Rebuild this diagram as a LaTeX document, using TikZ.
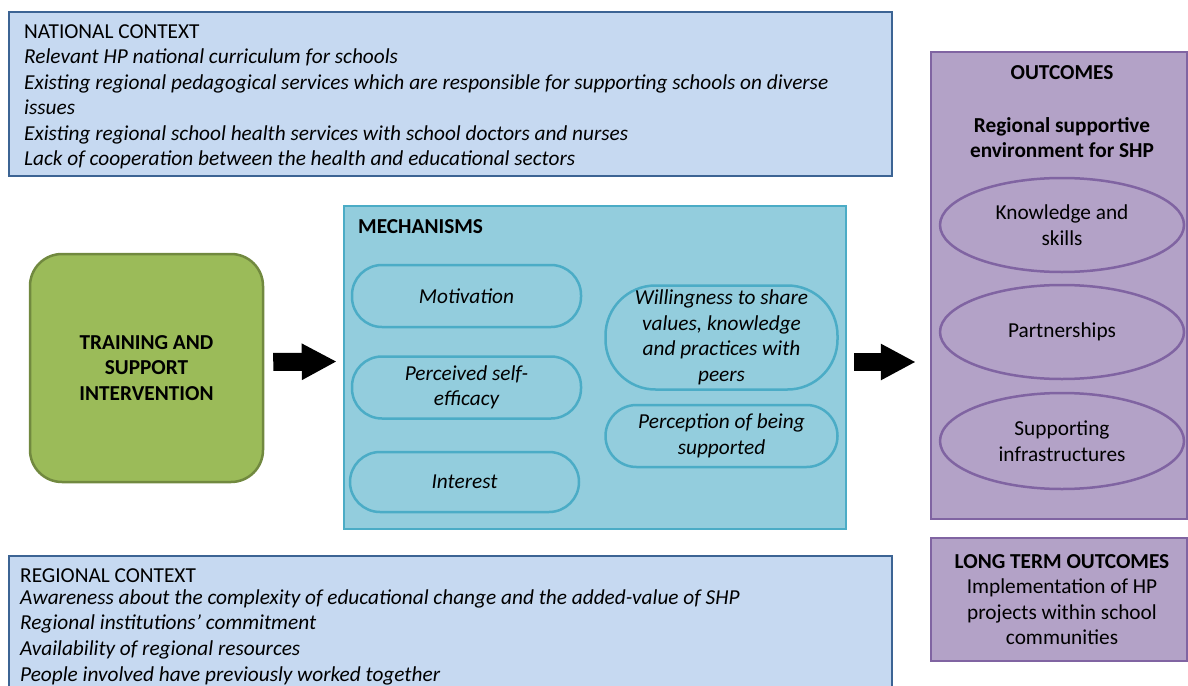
\documentclass[tikz,border=0pt]{standalone}
\usepackage{fontspec}
\setmainfont{Carlito}
\usetikzlibrary{arrows.meta,shapes.geometric}
\definecolor{natfill}{HTML}{C6D9F1}
\definecolor{natdraw}{HTML}{3C6494}
\definecolor{mechfill}{HTML}{93CDDD}
\definecolor{mechdraw}{HTML}{4BACC6}
\definecolor{grfill}{HTML}{9BBB59}
\definecolor{grdraw}{HTML}{71893F}
\definecolor{pufill}{HTML}{B3A2C7}
\definecolor{pudraw}{HTML}{8064A2}
\newcommand{\fsz}{\fontsize{21.3}{25.5}\selectfont}
\begin{document}
\begin{tikzpicture}[x=1pt,y=-1pt,
  every node/.style={font=\fsz, inner sep=0pt},
  ctxbox/.style={draw=natdraw, fill=natfill, line width=2.5pt},
  mechbox/.style={draw=mechdraw, fill=mechfill, line width=2.5pt},
  outbox/.style={draw=pudraw, fill=pufill, line width=2.5pt},
  line/.style={anchor=base west, font=\fsz\itshape},
  pill/.style={draw=mechdraw, fill=mechfill, line width=2.5pt, align=center,
    font=\fsz\itshape, minimum width=229pt, minimum height=62pt, rounded corners=30pt},
  oval/.style={ellipse, draw=pudraw, fill=pufill, line width=2.5pt, align=center,
    minimum width=244pt, minimum height=94pt},
  bigarrow/.style={line width=18pt, -{Triangle[length=35pt,width=34pt]}}
]
\useasboundingbox (0,0) rectangle (1188,685);
\begin{scope}
\clip (0,0) rectangle (1188,685);
% national context
\node[ctxbox, minimum width=883pt, minimum height=164pt] (nat) at (450.5,94) {};
\node[line, font=\fsz] (nat0) at (24,38) {NATIONAL CONTEXT};
\node[line] (nat1) at (24,63.5) {Relevant HP national curriculum for schools};
\node[line] (nat2) at (24,89) {Existing regional pedagogical services which are responsible for supporting schools on diverse};
\node[line] (nat3) at (24,114) {issues};
\node[line] (nat4) at (24,140) {Existing regional school health services with school doctors and nurses};
\node[line] (nat5) at (24,165) {Lack of cooperation between the health and educational sectors};
% regional context
\node[ctxbox, minimum width=883pt, minimum height=150pt] (reg) at (450.5,631) {};
\node[line, font=\fsz] (reg0) at (20,582) {REGIONAL CONTEXT};
\node[line] (reg1) at (20,604) {Awareness about the complexity of educational change and the added-value of SHP};
\node[line] (reg2) at (20,629) {Regional institutions’ commitment};
\node[line] (reg3) at (20,655) {Availability of regional resources};
\node[line] (reg4) at (20,681) {People involved have previously worked together};
% training
\node[draw=grdraw, fill=grfill, line width=2.5pt, rounded corners=32pt,
  minimum width=233pt, minimum height=228pt, align=center,
  font=\fsz\bfseries] (train) at (146.5,368)
  {TRAINING AND\\SUPPORT\\INTERVENTION};
% mechanisms
\node[mechbox, minimum width=502pt, minimum height=323pt] (mech) at (595,367.5) {};
\node[anchor=base west, font=\fsz\bfseries] (mecht) at (358,233) {MECHANISMS};
\node[pill] (motiv) at (466.5,296) {Motivation};
\node[pill] (self) at (466.5,387.5) {Perceived self-\\efficacy};
\node[pill, minimum height=60pt] (inter) at (464.5,482) {Interest};
\node[pill, minimum width=232pt, minimum height=104pt, rounded corners=50pt] (will) at (721.5,337.5)
  {Willingness to share\\values, knowledge\\and practices with\\peers};
\node[pill, minimum width=232pt, minimum height=62pt, rounded corners=31pt] (perc) at (721.5,436) {Perception of being\\supported};
% outcomes
\node[outbox, minimum width=256pt, minimum height=467pt] (outc) at (1059,285.5) {};
\node[font=\fsz\bfseries] (outt) at (1062,73) {OUTCOMES};
\node[font=\fsz\bfseries, align=center] (outs) at (1062,137.5)
  {Regional supportive\\environment for SHP};
\node[oval] (know) at (1062,225) {Knowledge and\\skills};
\node[oval] (part) at (1062,332) {Partnerships};
\node[oval, minimum height=96pt] (supp) at (1062,441) {Supporting\\infrastructures};
\node[outbox, minimum width=256pt, minimum height=123pt] (lto) at (1059,599.5) {};
\node[font=\fsz\bfseries] (ltot) at (1062,562) {LONG TERM OUTCOMES};
\node[align=center] (ltob) at (1062,612) {Implementation of HP\\projects within school\\communities};
% arrows
\draw[bigarrow, shorten <=9pt, shorten >=6pt] ([yshift=6pt]train.east) -- ([yshift=6pt]mech.west);
\draw[bigarrow, shorten <=7pt, shorten >=14pt] ([yshift=5.5pt]mech.east) -- ([yshift=5.5pt]mech.east -| outc.west);
\end{scope}
\end{tikzpicture}
\end{document}
